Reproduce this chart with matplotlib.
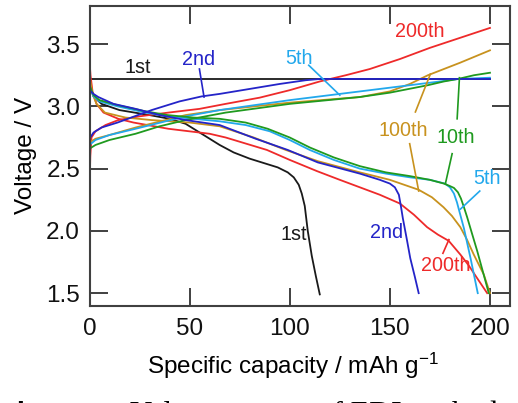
import matplotlib
matplotlib.use("Agg")
import matplotlib.pyplot as plt

plt.rcParams['font.family'] = ['Liberation Sans', 'DejaVu Sans']
plt.rcParams['mathtext.fontset'] = 'custom'
plt.rcParams['mathtext.rm'] = 'Liberation Sans'
plt.rcParams['mathtext.it'] = 'Liberation Sans:italic'
plt.rcParams['mathtext.default'] = 'regular'

# ---------------- data (capacity mAh/g, voltage V) ----------------
# 1st cycle
c1_chg_x = [0, 200]
c1_chg_y = [3.22, 3.22]
c1_dis_x = [0, 2, 6, 15, 30, 40, 48, 55, 60, 65, 72, 80, 88, 94, 99, 102, 104.5, 106, 107.5, 109, 111, 113, 115]
c1_dis_y = [3.18, 3.08, 3.02, 2.97, 2.93, 2.90, 2.86, 2.79, 2.74, 2.69, 2.63, 2.58, 2.54, 2.51, 2.47, 2.43, 2.37, 2.30, 2.20, 2.00, 1.80, 1.64, 1.49]

# 2nd cycle
c2_chg_x = [0, 2, 6, 14, 31, 45, 56, 65, 80, 95, 108, 115, 200]
c2_chg_y = [2.74, 2.79, 2.83, 2.87, 2.97, 3.04, 3.08, 3.10, 3.14, 3.18, 3.21, 3.22, 3.22]
c2_dis_x = [0, 2, 4.4, 12, 23, 35, 48, 65, 83, 99, 114, 135, 145, 150, 152.5, 154.5, 155.5, 156.5, 158.5, 160.2, 162.5, 164.4]
c2_dis_y = [3.13, 3.10, 3.075, 3.02, 2.98, 2.93, 2.89, 2.85, 2.74, 2.65, 2.55, 2.46, 2.41, 2.38, 2.35, 2.29, 2.20, 2.10, 1.93, 1.78, 1.63, 1.50]

# 5th cycle
c5_chg_x = [0, 3, 10, 23, 48, 65, 100, 140, 160, 175, 184, 200]
c5_chg_y = [2.69, 2.73, 2.77, 2.82, 2.92, 2.97, 3.05, 3.13, 3.17, 3.20, 3.22, 3.23]
c5_dis_x = [0, 2, 5, 14, 28, 39, 52, 65, 78, 90, 100, 110, 122, 135, 148, 160, 170, 177.5, 180, 182, 183.5, 185, 187, 190.3, 193.9]
c5_dis_y = [3.15, 3.08, 3.04, 3.00, 2.95, 2.92, 2.90, 2.88, 2.85, 2.80, 2.73, 2.65, 2.57, 2.50, 2.46, 2.43, 2.41, 2.38, 2.35, 2.30, 2.23, 2.14, 2.02, 1.78, 1.50]

# 10th cycle
c10_chg_x = [0, 3, 10, 23, 35, 48, 68, 100, 135, 150, 169, 177, 184, 192, 200]
c10_chg_y = [2.66, 2.69, 2.73, 2.78, 2.84, 2.89, 2.95, 3.02, 3.075, 3.11, 3.17, 3.20, 3.22, 3.25, 3.27]
c10_dis_x = [0, 2, 5, 14, 28, 39, 52, 65, 78, 89, 100, 110, 122, 135, 148, 160, 170, 177, 180, 182, 184, 185.5, 187, 188.6, 191, 193.6, 196.5, 199.4]
c10_dis_y = [3.17, 3.09, 3.05, 3.01, 2.96, 2.93, 2.91, 2.90, 2.87, 2.82, 2.75, 2.67, 2.59, 2.52, 2.47, 2.44, 2.41, 2.38, 2.36, 2.345, 2.31, 2.26, 2.19, 2.11, 1.98, 1.84, 1.67, 1.50]

# 100th cycle
c100_chg_x = [0, 3, 10, 23, 48, 65, 100, 135, 150, 160, 169, 185, 200]
c100_chg_y = [2.71, 2.74, 2.77, 2.83, 2.93, 2.97, 3.03, 3.075, 3.12, 3.18, 3.25, 3.35, 3.45]
c100_dis_x = [0, 1.5, 3.5, 7.7, 18, 31, 50, 65, 82, 98, 114, 135, 150, 164.4, 171, 176.8, 181, 185.2, 188.5, 191.9, 196.9, 200]
c100_dis_y = [3.24, 3.10, 3.02, 2.95, 2.91, 2.89, 2.87, 2.84, 2.75, 2.65, 2.56, 2.47, 2.41, 2.33, 2.27, 2.19, 2.12, 2.03, 1.93, 1.81, 1.65, 1.50]

# 200th cycle
c200_chg_x = [0, 0.4, 1, 3, 8, 14.4, 25, 39.4, 55, 68, 85, 100, 115, 128, 140, 155, 170, 185, 200]
c200_chg_y = [2.32, 2.60, 2.75, 2.80, 2.85, 2.89, 2.92, 2.95, 2.98, 3.02, 3.07, 3.13, 3.20, 3.25, 3.30, 3.38, 3.47, 3.55, 3.63]
c200_dis_x = [0, 0.5, 1.5, 3.5, 7, 14.4, 22, 39.4, 60, 68, 88.6, 100, 113.6, 125, 135, 145, 155, 162, 168.6, 174, 179.4, 185.2, 189.5, 193.6, 198.6]
c200_dis_y = [3.37, 3.25, 3.12, 3.02, 2.95, 2.90, 2.87, 2.82, 2.78, 2.75, 2.65, 2.57, 2.48, 2.41, 2.35, 2.29, 2.22, 2.13, 2.03, 1.97, 1.92, 1.81, 1.72, 1.62, 1.50]

x_ticks = [0, 50, 100, 150, 200]
y_ticks = [1.5, 2.0, 2.5, 3.0, 3.5]

# colors
C_1 = '#1a1a1a'
C_2 = '#2424c8'
C_5 = '#22a8ec'
C_10 = '#1f9a1f'
C_100 = '#c8921e'
C_200 = '#ee2a2a'

fig = plt.figure(figsize=(5.18, 4.03), dpi=100)
ax = fig.add_axes([89.5 / 518, 1 - 305.6 / 403, (510 - 89.5) / 518, (305.6 - 6) / 403])

lw = 1.3
ax.plot(c1_chg_x, c1_chg_y, color=C_1, lw=lw)
ax.plot(c1_dis_x, c1_dis_y, color=C_1, lw=lw)
ax.plot(c200_chg_x, c200_chg_y, color=C_200, lw=lw)
ax.plot(c200_dis_x, c200_dis_y, color=C_200, lw=lw)
ax.plot(c100_chg_x, c100_chg_y, color=C_100, lw=lw)
ax.plot(c100_dis_x, c100_dis_y, color=C_100, lw=lw)
ax.plot(c5_chg_x, c5_chg_y, color=C_5, lw=lw)
ax.plot(c5_dis_x, c5_dis_y, color=C_5, lw=lw)
ax.plot(c10_chg_x, c10_chg_y, color=C_10, lw=lw)
ax.plot(c10_dis_x, c10_dis_y, color=C_10, lw=lw)
ax.plot(c2_chg_x, c2_chg_y, color=C_2, lw=lw)
ax.plot(c2_dis_x, c2_dis_y, color=C_2, lw=lw)

ax.set_xlim(0, 210)
ax.set_ylim(1.4, 3.806)
ax.set_xticks(x_ticks)
ax.set_yticks(y_ticks)
ax.set_xticklabels([str(v) for v in x_ticks])
ax.set_yticklabels(['%.1f' % v for v in y_ticks])

spine_c = '#404040'
for s in ax.spines.values():
    s.set_color(spine_c)
    s.set_linewidth(1.5)
ax.tick_params(axis='both', which='major', direction='in', length=13, width=1.4,
               color=spine_c, top=True, right=True, labelsize=17.5, labelcolor='#111111')
ax.tick_params(axis='x', pad=8.6)
ax.tick_params(axis='y', pad=6.8)

ax.set_xlabel('Specific capacity / mAh g$^{\u22121}$', fontsize=17.5, va='baseline')
ax.xaxis.set_label_coords(0.484, -0.228)
ax.set_ylabel('Voltage / V', fontsize=17.5)
ax.yaxis.set_label_coords(-0.125, 0.5)

fs = 14.2
def lab(x, y, t, c):
    ax.text(x, y, t, color=c, fontsize=fs, ha='center', va='center')

def lead(x0, y0, x1, y1, c):
    ax.plot([x0, x1], [y0, y1], color=c, lw=1.2)

lab(24.2, 3.315, '1st', C_1)
lab(54.5, 3.38, '2nd', C_2)
lead(54.9, 3.30, 57.2, 3.075, C_2)
lab(104.4, 3.385, '5th', C_5)
lead(109.5, 3.33, 125, 3.09, C_5)
lab(164.7, 3.60, '200th', C_200)
lab(156.9, 2.81, '100th', C_100)
lead(162.75, 2.955, 170.25, 3.26, C_100)
lead(159.9, 2.70, 164.4, 2.32, C_100)
lab(182.75, 2.75, '10th', C_10)
lead(183.6, 2.90, 184.75, 3.23, C_10)
lead(181.1, 2.62, 177.75, 2.38, C_10)
lab(198.6, 2.42, '5th', C_5)
lead(194.9, 2.32, 185.25, 2.175, C_5)
lab(148.6, 1.985, '2nd', C_2)
lab(101.9, 1.97, '1st', C_1)
lab(177.75, 1.72, '200th', C_200)
lead(176.5, 1.82, 179.5, 1.93, C_200)

# caption (cut off at the bottom of the picture, as in the reference)
fig.text(-1 / 518, 1 - 423 / 403, 'Figure 3.', fontsize=21, fontweight='bold',
         family=['Liberation Sans', 'DejaVu Sans'], va='baseline', ha='left')
fig.text(130 / 518, 1 - 423 / 403, 'Voltage curves of EDL cathode', fontsize=22,
         family=['Liberation Serif', 'DejaVu Serif'], va='baseline', ha='left')

fig.savefig('out.png', dpi=100)
